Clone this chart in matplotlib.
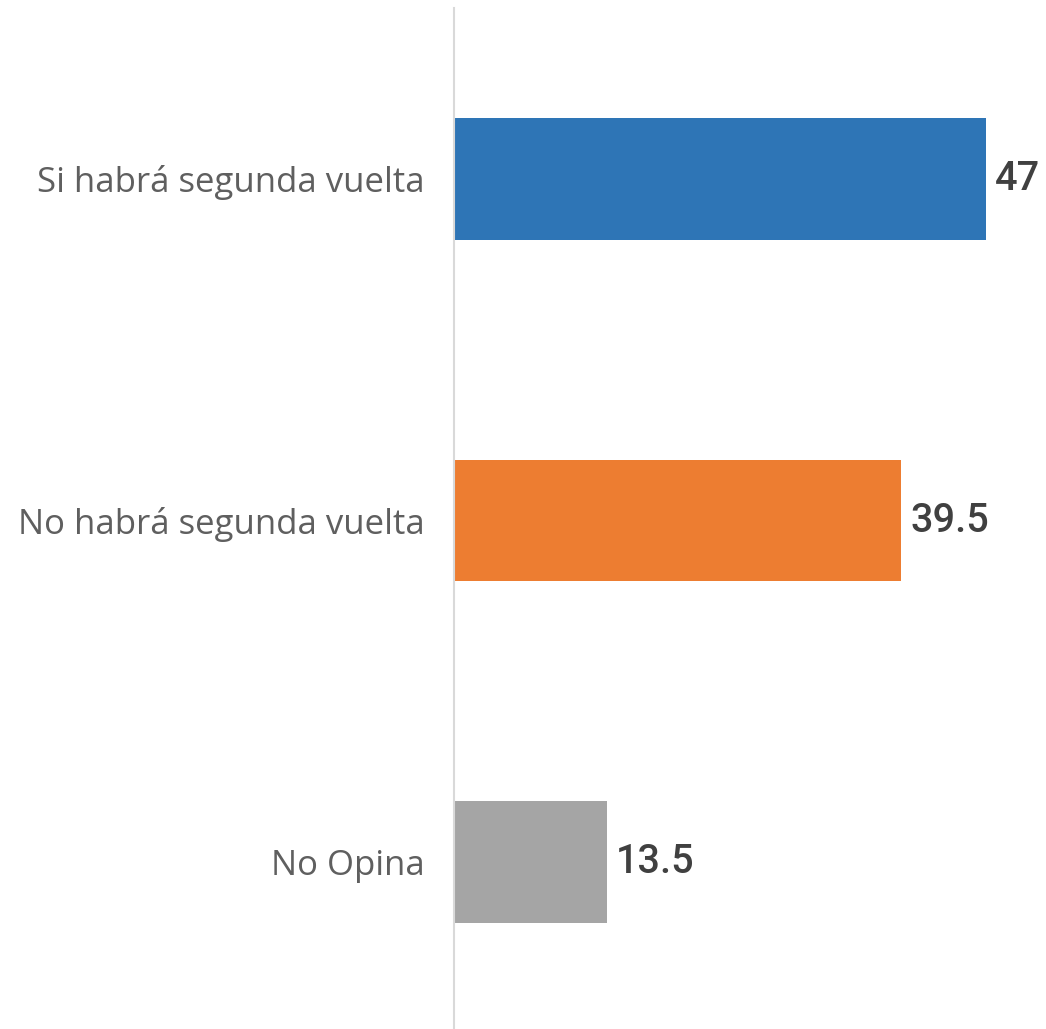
import matplotlib.pyplot as plt

# data
categorias = ["Si habrá segunda vuelta", "No habrá segunda vuelta", "No Opina"]
valores = [47, 39.5, 13.5]
etiquetas = ["47", "39.5", "13.5"]
colores = ["#2E75B6", "#ED7D31", "#A5A5A5"]

plt.rcParams['font.family'] = ['Roboto', 'DejaVu Sans']

fig = plt.figure(figsize=(10.46, 10.29), dpi=100)
ax = fig.add_axes([454 / 1046, -4 / 1029, 592 / 1046, 1025 / 1029])

pos = range(len(categorias))
ax.barh(pos, valores, height=0.357, color=colores)

for i, (v, t) in enumerate(zip(valores, etiquetas)):
    ax.text(v + 0.8, i, t, va='center', ha='left', fontsize=28.5,
            color='#404040', fontweight='medium')

ax.set_xlim(0, 52.3)
ax.set_ylim(2.5, -0.5)
ax.set_yticks(list(pos))
ax.set_yticklabels(categorias, fontsize=25, color='#5F5F5F',
                   family=['Open Sans', 'DejaVu Sans'])
ax.tick_params(axis='y', length=0, pad=21)
ax.set_xticks([])

for s in ['top', 'right', 'bottom']:
    ax.spines[s].set_visible(False)
ax.spines['left'].set_color('#D9D9D9')
ax.spines['left'].set_linewidth(1.5)

fig.savefig("out.png", dpi=100)
